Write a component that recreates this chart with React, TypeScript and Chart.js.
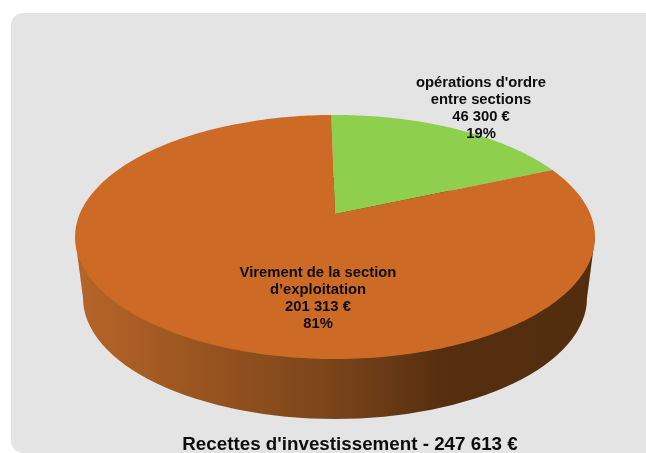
import React, { useEffect, useRef } from "react";
import { Chart, registerables } from "chart.js";

Chart.register(...registerables);

const categories = ["opérations d'ordre entre sections", "Virement de la section d'exploitation"];
const amounts = [46300, 201313];
const colours = ["#8ecf4e", "#cc6a26"];
const labelLines = [
  ["opérations d'ordre", "entre sections", "46 300 €", "19%"],
  ["Virement de la section", "d’exploitation", "201 313 €", "81%"],
];
const chartTitle = "Recettes d'investissement - 247 613 €";

const FONT = '"Liberation Sans", Arial, sans-serif';
const APEX = { x: 335, y: 214 };
const PERSP = 0.1885;
const AX = 255.3;
const BY = 117.7;

function project(angle: number) {
  const u = Math.cos(angle);
  const v = Math.sin(angle);
  const w = 1 - PERSP * v;
  return { x: APEX.x + (AX * u) / w, y: APEX.y + (BY * v) / w };
}

const pie3d = {
  id: "pie3d",
  beforeDraw(chart: any) {
    const { ctx } = chart;
    ctx.save();
    ctx.fillStyle = "#e4e4e4";
    ctx.beginPath();
    ctx.roundRect(11, 13, 700, 440, 12);
    ctx.fill();
    ctx.restore();
  },
  beforeDatasetDraw(chart: any) {
    const { ctx } = chart;
    const meta = chart.getDatasetMeta(0);
    ctx.save();
    const g = ctx.createLinearGradient(75, 0, 595, 0);
    g.addColorStop(0, "#b76528");
    g.addColorStop(0.25, "#98541f");
    g.addColorStop(0.5, "#79441a");
    g.addColorStop(0.72, "#542e0f");
    g.addColorStop(1, "#522d0e");
    ctx.fillStyle = g;
    ctx.beginPath();
    ctx.moveTo(75, 237);
    ctx.lineTo(595, 237);
    ctx.lineTo(587, 298);
    ctx.lineTo(83, 298);
    ctx.closePath();
    ctx.fill();
    ctx.beginPath();
    ctx.ellipse(335, 298, 252, 121, 0, 0, Math.PI * 2);
    ctx.fill();

    meta.data.forEach((arc: any, i: number) => {
      ctx.fillStyle = colours[i];
      ctx.beginPath();
      ctx.moveTo(APEX.x, APEX.y);
      const steps = 240;
      for (let s = 0; s <= steps; s++) {
        const p = project(arc.startAngle + ((arc.endAngle - arc.startAngle) * s) / steps);
        ctx.lineTo(p.x, p.y);
      }
      ctx.closePath();
      ctx.fill();
    });
    ctx.restore();
    return false;
  },
  afterDatasetsDraw(chart: any) {
    const { ctx } = chart;
    const anchors = [
      { x: 481, y: 83 },
      { x: 318, y: 273 },
    ];
    ctx.save();
    ctx.fillStyle = "#0d0d0d";
    ctx.font = `bold 14.8px ${FONT}`;
    ctx.textAlign = "center";
    ctx.textBaseline = "middle";
    labelLines.forEach((lines, i) => {
      lines.forEach((t, j) => ctx.fillText(t, anchors[i].x, anchors[i].y + j * 17));
    });
    ctx.restore();
  },
};

export default function App() {
  const ref = useRef<HTMLCanvasElement>(null);
  useEffect(() => {
    const chart = new Chart(ref.current!, {
      type: "pie",
      data: {
        labels: categories,
        datasets: [{ data: amounts, backgroundColor: colours, borderWidth: 0 }],
      },
      options: {
        animation: false,
        responsive: false,
        rotation: -1,
        layout: { padding: { left: 54, right: 0, top: 0, bottom: 0 } },
        plugins: {
          legend: { display: false },
          tooltip: { enabled: false },
          title: {
            display: true,
            text: chartTitle,
            position: "bottom",
            color: "#0d0d0d",
            font: { family: FONT, size: 18.8, weight: "bold" },
            padding: { top: 0, bottom: -3 },
          },
        },
      },
      plugins: [pie3d],
    } as any);
    return () => chart.destroy();
  }, []);
  return (
    <div style={{ position: "fixed", left: 0, top: 0, width: 646, height: 453, background: "#fff", overflow: "hidden" }}>
      <canvas ref={ref} width={646} height={453} style={{ display: "block", width: 646, height: 453, filter: "blur(0.35px)" }} />
    </div>
  );
}
